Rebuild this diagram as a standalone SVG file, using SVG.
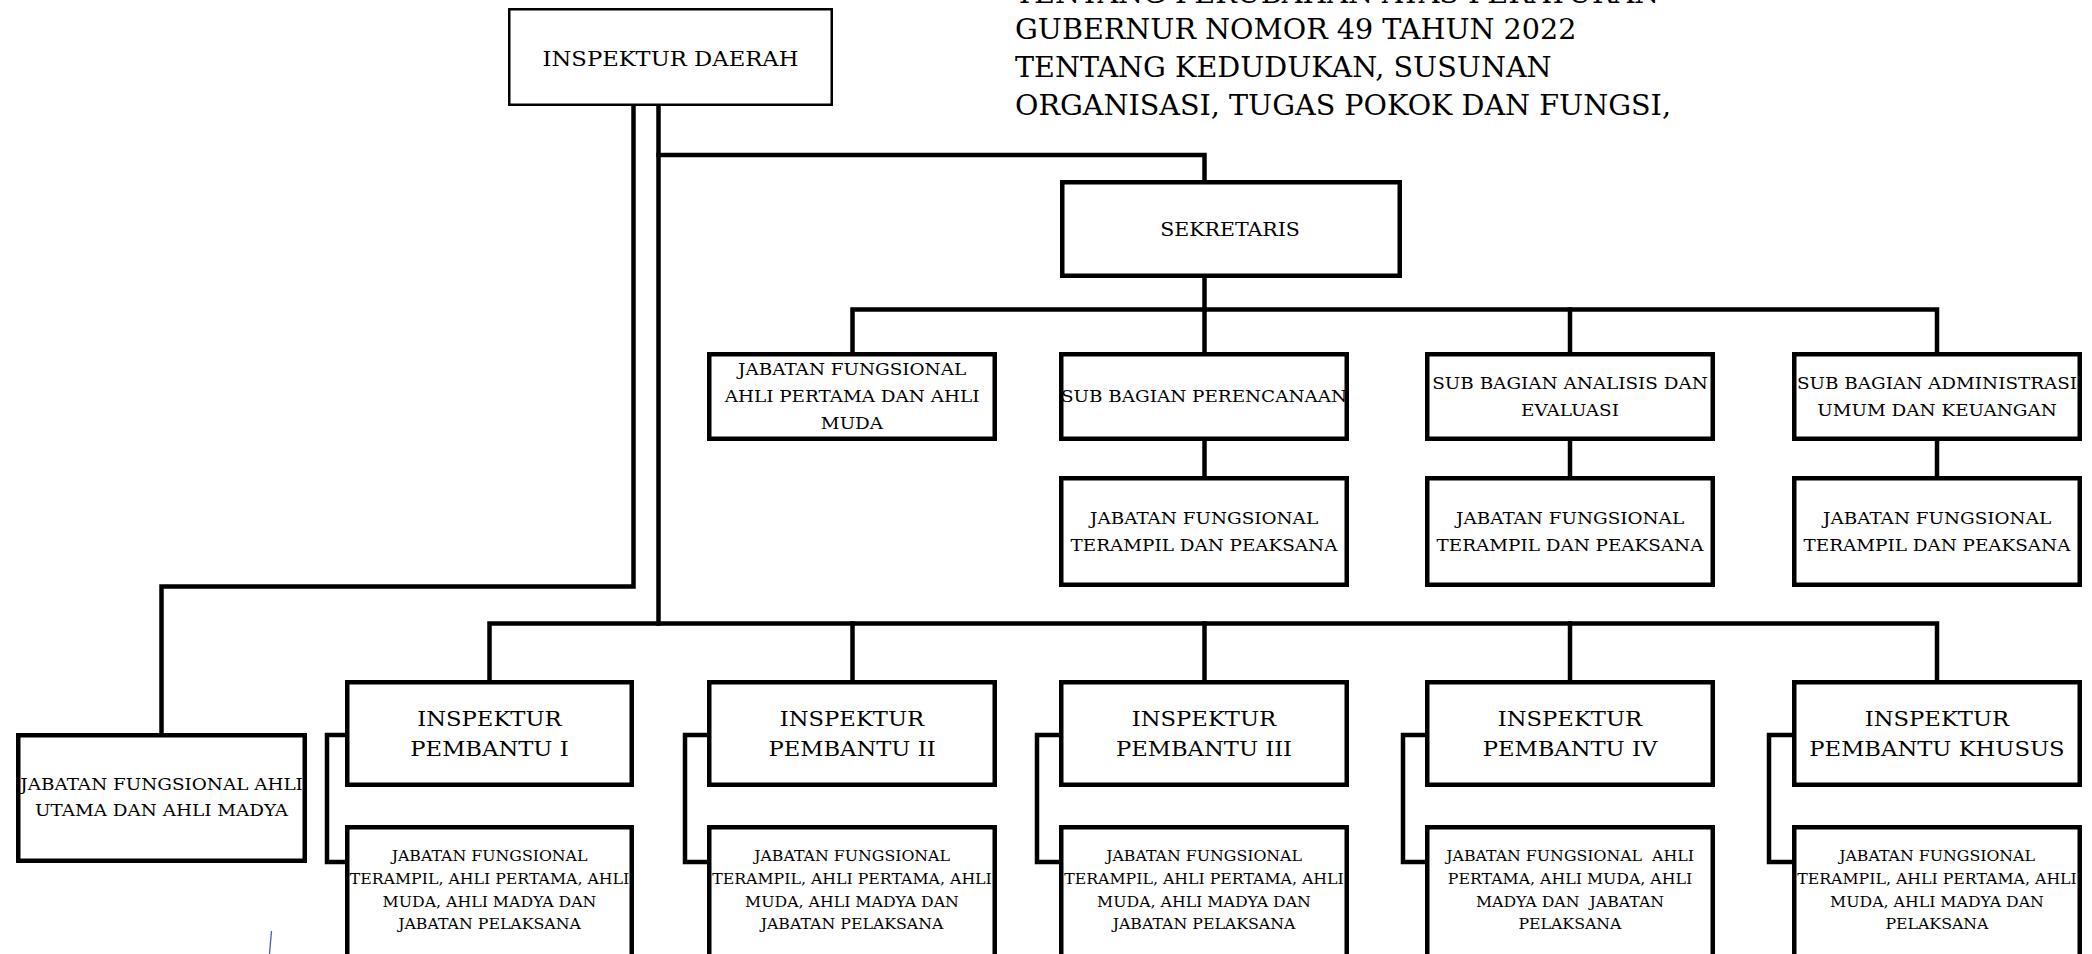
<svg xmlns="http://www.w3.org/2000/svg" width="2092" height="954" viewBox="0 0 2092 954">
<style>
  .bx { fill: #ffffff; stroke: #000000; stroke-width: 4.5; }
  .bxt { fill: #ffffff; stroke: #000000; stroke-width: 2.5; }
  .ln { fill: none; stroke: #000000; stroke-width: 4.5; stroke-linejoin: miter; stroke-linecap: square; }
  text { font-family: "DejaVu Serif", "Liberation Serif", serif; fill: #000000; text-anchor: middle;
         transform-box: fill-box; transform-origin: center; transform: scaleX(1.08); }
  .ttl { text-anchor: start; transform-origin: 0 50%; transform: scaleX(1.04); font-size: 27.5px; }
  .f21 { font-size: 21px; }
  .f19 { font-size: 19px; }
  .f17 { font-size: 17px; }
  .f14 { font-size: 14.6px; }
</style>

<g id="title">
  <text class="ttl" x="1015" y="3">TENTANG PERUBAHAN ATAS PERATURAN</text>
  <text class="ttl" x="1015" y="39.5">GUBERNUR NOMOR 49 TAHUN 2022</text>
  <text class="ttl" x="1015" y="77.5">TENTANG KEDUDUKAN, SUSUNAN</text>
  <text class="ttl" x="1015" y="115.5">ORGANISASI, TUGAS POKOK DAN FUNGSI,</text>
</g>

<g id="connectors">
  <path class="ln" d="M633.5 108 V586.5 H161.5 V733"/>
  <path class="ln" d="M658.5 108 V623.5"/>
  <path class="ln" d="M658.5 155 H1204.5 V180"/>
  <path class="ln" d="M1204.5 278 V309.5"/>
  <path class="ln" d="M852.5 352 V309.5 H1937 V352"/>
  <path class="ln" d="M1570 309.5 V352"/>
  <path class="ln" d="M1204.5 309.5 V352"/>
  <path class="ln" d="M1204.5 441 V476"/>
  <path class="ln" d="M1570 441 V476"/>
  <path class="ln" d="M1937 441 V476"/>
  <path class="ln" d="M489.5 680 V623.5 H1937 V680"/>
  <path class="ln" d="M852.5 623.5 V680"/>
  <path class="ln" d="M1204.5 623.5 V680"/>
  <path class="ln" d="M1570 623.5 V680"/>
  <path class="ln" d="M345 735 H327 V862 H345"/>
  <path class="ln" d="M707 735 H685 V862 H707"/>
  <path class="ln" d="M1059 735 H1037 V862 H1059"/>
  <path class="ln" d="M1425 735 H1403 V862 H1425"/>
  <path class="ln" d="M1792 735 H1769 V862 H1792"/>
</g>

<g id="inspektur-daerah">
  <rect class="bxt" x="509.25" y="9.25" width="322.5" height="95.5"/>
  <text class="f21" x="670.5" y="66">INSPEKTUR DAERAH</text>
</g>

<g id="sekretaris">
  <rect class="bx" x="1062.25" y="182.25" width="337.5" height="93.5"/>
  <text class="f19" x="1230" y="236.5">SEKRETARIS</text>
</g>

<g id="jf-ahli-pertama-muda">
  <rect class="bx" x="709.25" y="354.25" width="285.5" height="84.5"/>
  <text class="f17" x="852" y="375">JABATAN FUNGSIONAL</text>
  <text class="f17" x="852" y="402">AHLI PERTAMA DAN AHLI</text>
  <text class="f17" x="852" y="429">MUDA</text>
</g>

<g id="sub-perencanaan">
  <rect class="bx" x="1061.25" y="354.25" width="285.5" height="84.5"/>
  <text class="f17" x="1204" y="402">SUB BAGIAN PERENCANAAN</text>
</g>

<g id="sub-analisis">
  <rect class="bx" x="1427.25" y="354.25" width="285.5" height="84.5"/>
  <text class="f17" x="1570" y="389.5">SUB BAGIAN ANALISIS DAN</text>
  <text class="f17" x="1570" y="416">EVALUASI</text>
</g>

<g id="sub-administrasi">
  <rect class="bx" x="1794.25" y="354.25" width="285.5" height="84.5"/>
  <text class="f17" x="1937" y="389.5">SUB BAGIAN ADMINISTRASI</text>
  <text class="f17" x="1937" y="416">UMUM DAN KEUANGAN</text>
</g>

<g id="jf-perencanaan">
  <rect class="bx" x="1061.25" y="478.25" width="285.5" height="106.5"/>
  <text class="f17" x="1204" y="524.5">JABATAN FUNGSIONAL</text>
  <text class="f17" x="1204" y="551.5">TERAMPIL DAN PEAKSANA</text>
</g>

<g id="jf-analisis">
  <rect class="bx" x="1427.25" y="478.25" width="285.5" height="106.5"/>
  <text class="f17" x="1570" y="524.5">JABATAN FUNGSIONAL</text>
  <text class="f17" x="1570" y="551.5">TERAMPIL DAN PEAKSANA</text>
</g>

<g id="jf-administrasi">
  <rect class="bx" x="1794.25" y="478.25" width="285.5" height="106.5"/>
  <text class="f17" x="1937" y="524.5">JABATAN FUNGSIONAL</text>
  <text class="f17" x="1937" y="551.5">TERAMPIL DAN PEAKSANA</text>
</g>

<g id="jf-ahli-utama-madya">
  <rect class="bx" x="18.25" y="735.25" width="286.5" height="125.5"/>
  <text class="f17" x="161.5" y="790">JABATAN FUNGSIONAL AHLI</text>
  <text class="f17" x="161.5" y="816.5">UTAMA DAN AHLI MADYA</text>
</g>

<g id="inspektur-pembantu-1">
  <rect class="bx" x="347.25" y="682.25" width="284.5" height="102.5"/>
  <text class="f21" x="489.5" y="726">INSPEKTUR</text>
  <text class="f21" x="489.5" y="756.5">PEMBANTU I</text>
</g>

<g id="inspektur-pembantu-2">
  <rect class="bx" x="709.25" y="682.25" width="285.5" height="102.5"/>
  <text class="f21" x="852" y="726">INSPEKTUR</text>
  <text class="f21" x="852" y="756.5">PEMBANTU II</text>
</g>

<g id="inspektur-pembantu-3">
  <rect class="bx" x="1061.25" y="682.25" width="285.5" height="102.5"/>
  <text class="f21" x="1204" y="726">INSPEKTUR</text>
  <text class="f21" x="1204" y="756.5">PEMBANTU III</text>
</g>

<g id="inspektur-pembantu-4">
  <rect class="bx" x="1427.25" y="682.25" width="285.5" height="102.5"/>
  <text class="f21" x="1570" y="726">INSPEKTUR</text>
  <text class="f21" x="1570" y="756.5">PEMBANTU IV</text>
</g>

<g id="inspektur-pembantu-khusus">
  <rect class="bx" x="1794.25" y="682.25" width="285.5" height="102.5"/>
  <text class="f21" x="1937" y="726">INSPEKTUR</text>
  <text class="f21" x="1937" y="756.5">PEMBANTU KHUSUS</text>
</g>

<g id="jf-pembantu-1">
  <rect class="bx" x="347.25" y="827.25" width="284.5" height="140"/>
  <text class="f14" x="489.5" y="861">JABATAN FUNGSIONAL</text>
  <text class="f14" x="489.5" y="884">TERAMPIL, AHLI PERTAMA, AHLI</text>
  <text class="f14" x="489.5" y="907">MUDA, AHLI MADYA DAN</text>
  <text class="f14" x="489.5" y="929.5">JABATAN PELAKSANA</text>
</g>

<g id="jf-pembantu-2">
  <rect class="bx" x="709.25" y="827.25" width="285.5" height="140"/>
  <text class="f14" x="852" y="861">JABATAN FUNGSIONAL</text>
  <text class="f14" x="852" y="884">TERAMPIL, AHLI PERTAMA, AHLI</text>
  <text class="f14" x="852" y="907">MUDA, AHLI MADYA DAN</text>
  <text class="f14" x="852" y="929.5">JABATAN PELAKSANA</text>
</g>

<g id="jf-pembantu-3">
  <rect class="bx" x="1061.25" y="827.25" width="285.5" height="140"/>
  <text class="f14" x="1204" y="861">JABATAN FUNGSIONAL</text>
  <text class="f14" x="1204" y="884">TERAMPIL, AHLI PERTAMA, AHLI</text>
  <text class="f14" x="1204" y="907">MUDA, AHLI MADYA DAN</text>
  <text class="f14" x="1204" y="929.5">JABATAN PELAKSANA</text>
</g>

<g id="jf-pembantu-4">
  <rect class="bx" x="1427.25" y="827.25" width="285.5" height="140"/>
  <text class="f14" x="1570" y="861" xml:space="preserve">JABATAN FUNGSIONAL  AHLI</text>
  <text class="f14" x="1570" y="884">PERTAMA, AHLI MUDA, AHLI</text>
  <text class="f14" x="1570" y="907" xml:space="preserve">MADYA DAN  JABATAN</text>
  <text class="f14" x="1570" y="929.5">PELAKSANA</text>
</g>

<g id="jf-pembantu-khusus">
  <rect class="bx" x="1794.25" y="827.25" width="285.5" height="140"/>
  <text class="f14" x="1937" y="861">JABATAN FUNGSIONAL</text>
  <text class="f14" x="1937" y="884">TERAMPIL, AHLI PERTAMA, AHLI</text>
  <text class="f14" x="1937" y="907">MUDA, AHLI MADYA DAN</text>
  <text class="f14" x="1937" y="929.5">PELAKSANA</text>
</g>

<path d="M271.5 931 L269.5 954" fill="none" stroke="#4a5cb0" stroke-width="1.3"/>
</svg>
